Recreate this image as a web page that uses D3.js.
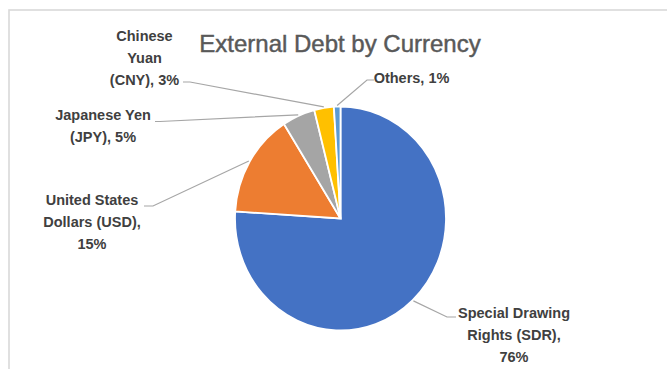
<!DOCTYPE html>
<html lang="en">
<head>
    <meta charset="utf-8">
    <title>External Debt by Currency</title>
    <style type="text/css">
        body { margin: 0; background: #fff; }
        .title { font-family: "Liberation Sans", Arial, sans-serif; font-size: 24px; fill: #595959; stroke: #595959; stroke-width: 0.45; }
        .label { font-family: "Liberation Sans", Arial, sans-serif; font-size: 14.5px; font-weight: bold; fill: #404040; }
        .leader { fill: none; stroke: #a6a6a6; stroke-width: 1.2; }
    </style>
</head>
<body>
   <svg class="chart" width="667" height="369"></svg>

   <script src="https://cdnjs.cloudflare.com/ajax/libs/d3/7.8.5/d3.min.js"></script>
   <script>
        // data
        var categories = ['Special Drawing Rights (SDR)', 'United States Dollars (USD)', 'Japanese Yen (JPY)', 'Chinese Yuan (CNY)', 'Others'];
        var values = [76, 15, 5, 3, 1];
        var colors = ['#4472c4', '#ed7d31', '#a5a5a5', '#ffc000', '#5b9bd5'];
        var title = 'External Debt by Currency';

        // layout: words per label line, label anchor, leader elbow
        var wraps = [[2, 2, 1], [2, 2, 1], [2, 2], [1, 1, 2], [2]];
        var labelPos = [[514, 318], [92, 205], [103, 120], [144.5, 41], [411.5, 83]];
        var elbows = [[[447, 317], [456, 317]],
                      [[153, 206], [144, 206]],
                      [[160, 121.5], [155, 121.5]],
                      [[190, 82], [183, 82]],
                      [[367, 80], [374, 80]]];

        var svg = d3.select('.chart'),
            cx = 340.5, cy = 218.5,
            rx = 105.5, ry = 112,
            lineH = 22;

        // chart frame (top and left edges visible)
        svg.append('rect')
            .attr('x', 9).attr('y', 10)
            .attr('width', 700).attr('height', 400)
            .attr('fill', 'none')
            .attr('stroke', '#d9d9d9')
            .attr('stroke-width', 1.6);

        svg.append('text')
            .attr('class', 'title')
            .attr('x', 340).attr('y', 52)
            .attr('text-anchor', 'middle')
            .text(title);

        var data = categories.map(function(c, i) { return {name: c, value: values[i], i: i}; });

        var pie = d3.pie()
            .sort(null)
            .value(function(d) { return d.value; });

        var arcs = pie(data);

        var arc = d3.arc().innerRadius(0).outerRadius(rx);

        var g = svg.append('g')
            .attr('transform', 'translate(' + cx + ',' + cy + ') scale(1,' + (ry / rx) + ')');

        g.selectAll('path')
            .data(arcs)
            .enter().append('path')
            .attr('d', arc)
            .attr('fill', function(d) { return colors[d.data.i]; })
            .attr('stroke', '#fff')
            .attr('stroke-width', 1.8)
            .attr('vector-effect', 'non-scaling-stroke');

        // leader lines from the slice edge
        function edgePoint(d, extra) {
            var a = (d.startAngle + d.endAngle) / 2;
            return [cx + (rx + extra) * Math.sin(a), cy - (ry + extra) * Math.cos(a)];
        }

        svg.selectAll('.leader')
            .data(arcs)
            .enter().append('polyline')
            .attr('class', 'leader')
            .attr('points', function(d) {
                var p = [edgePoint(d, 1)].concat(elbows[d.data.i]);
                return p.map(function(q) { return q.join(','); }).join(' ');
            });

        // labels
        arcs.forEach(function(d) {
            var i = d.data.i,
                words = (d.data.name + ', ' + d.data.value + '%').split(' '),
                lines = [], k = 0;
            wraps[i].forEach(function(n) {
                lines.push(words.slice(k, k + n).join(' '));
                k += n;
            });
            var t = svg.append('text')
                .attr('class', 'label')
                .attr('text-anchor', 'middle');
            lines.forEach(function(s, j) {
                t.append('tspan')
                    .attr('x', labelPos[i][0])
                    .attr('y', labelPos[i][1] + j * lineH)
                    .text(s);
            });
        });
   </script>
</body>
</html>
